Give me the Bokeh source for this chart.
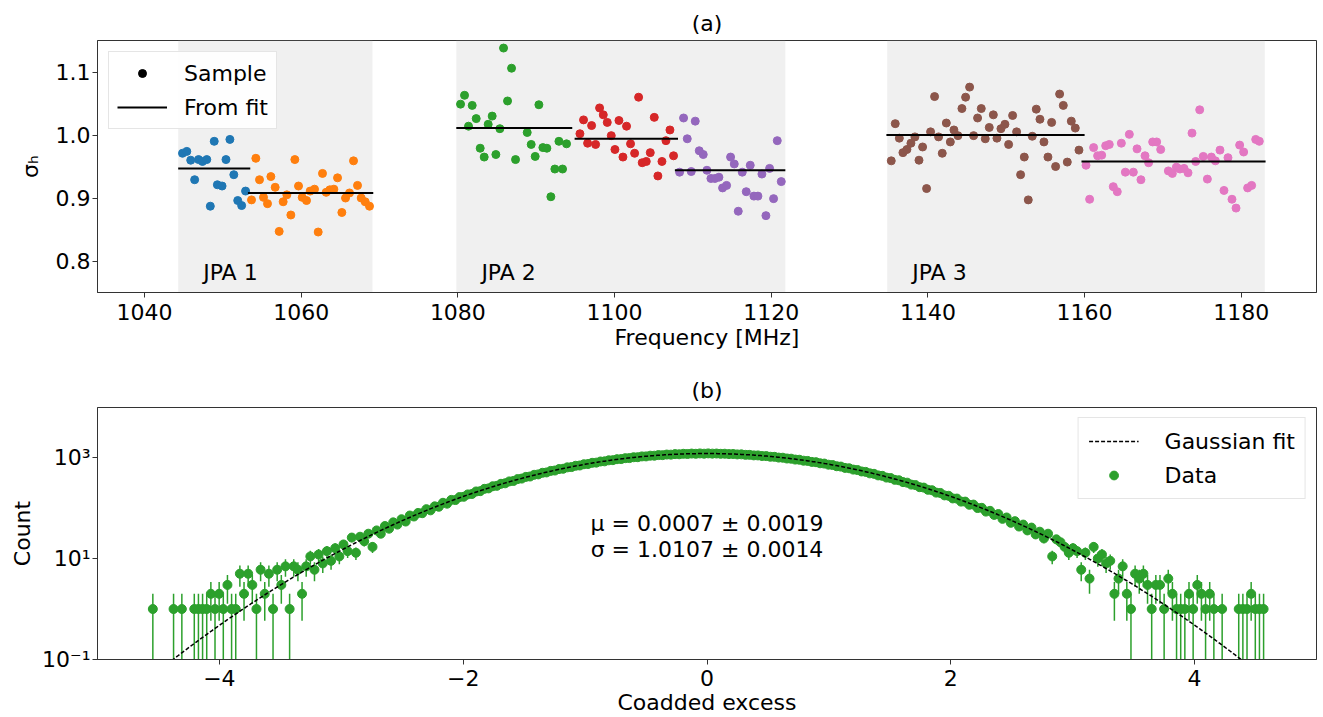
import numpy as np
from bokeh.plotting import figure
from bokeh.layouts import column
from bokeh.models import (BoxAnnotation, Label, Legend, LegendItem, FixedTicker,
                          Range1d, CustomJSTickFormatter)
from bokeh.embed import file_html
from bokeh.resources import INLINE

FONT = "DejaVu Sans"
FS = "22px"
AX = "#333333"

# ---------------- panel (a) data ----------------
jpa_names = ["JPA 1", "JPA 2", "JPA 3"]
jpa_lo = [1044.3, 1079.8, 1134.8]
jpa_hi = [1069.1, 1121.8, 1183.0]

blue_x = [1044.85, 1045.4, 1045.9, 1046.4, 1046.9, 1047.4, 1047.95, 1048.4, 1048.9,
          1049.3, 1049.9, 1050.4, 1050.9, 1051.4, 1051.9, 1052.4, 1052.9]
blue_y = [0.971, 0.974, 0.960, 0.929, 0.961, 0.958, 0.961, 0.887, 0.990,
          0.921, 0.919, 0.961, 0.993, 0.937, 0.896, 0.888, 0.911]

orange_x = [1053.66, 1054.21, 1054.68, 1055.19, 1055.70, 1056.13, 1056.68, 1057.19,
            1057.70, 1058.17, 1058.68, 1059.19, 1059.66, 1060.13, 1060.68, 1061.15,
            1061.70, 1062.17, 1062.72, 1063.19, 1063.66, 1064.17, 1064.64, 1065.19,
            1065.66, 1066.17, 1066.68, 1067.19, 1067.66, 1068.17, 1068.72]
orange_y = [0.897, 0.963, 0.929, 0.901, 0.891, 0.934, 0.917, 0.847, 0.894, 0.905,
            0.873, 0.961, 0.919, 0.901, 0.896, 0.911, 0.914, 0.846, 0.939, 0.909,
            0.913, 0.914, 0.932, 0.877, 0.900, 0.908, 0.959, 0.920, 0.900, 0.894, 0.887]

green_x = [1080.34, 1080.85, 1081.36, 1081.83, 1082.34, 1082.85, 1083.36, 1083.87,
           1084.38, 1084.85, 1085.36, 1085.83, 1086.34, 1086.85, 1087.36, 1088.85,
           1089.36, 1089.87, 1090.34, 1090.85, 1091.36, 1091.87, 1092.38, 1092.90,
           1093.36, 1093.87]
green_y = [1.049, 1.063, 1.014, 1.047, 1.026, 0.979, 0.965, 1.017, 1.030, 0.969,
           1.010, 1.138, 1.054, 1.106, 0.961, 1.004, 0.985, 0.966, 1.048, 0.980,
           0.979, 0.902, 0.946, 0.990, 0.946, 0.986]

red_x = [1095.58, 1096.04, 1096.56, 1097.07, 1097.58, 1098.09, 1098.56, 1099.07,
         1099.58, 1100.05, 1100.56, 1101.07, 1101.53, 1102.04, 1102.56, 1103.07,
         1103.53, 1104.05, 1104.56, 1105.07, 1105.53, 1106.05, 1106.56, 1107.07, 1107.53]
red_y = [1.002, 1.024, 0.987, 1.015, 0.985, 1.043, 1.032, 1.020, 0.999, 0.977,
         1.023, 0.965, 1.014, 0.986, 0.971, 1.060, 0.956, 0.958, 0.972, 1.028,
         0.935, 0.958, 0.991, 1.008, 0.967]

purple_x = [1108.30, 1108.81, 1109.28, 1109.79, 1110.30, 1110.81, 1111.32, 1111.79,
            1112.30, 1112.81, 1113.32, 1113.79, 1114.30, 1114.81, 1115.28, 1115.79,
            1116.30, 1116.81, 1117.32, 1117.79, 1118.30, 1118.81, 1119.32, 1119.79,
            1120.30, 1120.77, 1121.28]
purple_y = [0.941, 1.027, 0.994, 0.942, 1.022, 0.975, 0.969, 0.944, 0.931, 0.931,
            0.933, 0.916, 0.920, 0.965, 0.954, 0.879, 0.941, 0.910, 0.952, 0.903,
            0.903, 0.938, 0.872, 0.947, 0.899, 0.991, 0.926]

brown_x = [1135.32, 1135.83, 1136.35, 1136.81, 1137.32, 1137.83, 1138.34, 1138.86,
           1139.32, 1139.83, 1140.34, 1140.85, 1141.36, 1141.83, 1142.35, 1142.86,
           1143.32, 1143.83, 1144.34, 1144.81, 1145.32, 1145.83, 1146.34, 1146.81,
           1147.32, 1147.83, 1148.35, 1148.81, 1149.32, 1149.83, 1150.30, 1150.81,
           1151.32, 1151.83, 1152.30, 1152.81, 1153.32, 1153.83, 1154.30, 1154.81,
           1155.32, 1155.79, 1156.30, 1156.81, 1157.28, 1157.79, 1158.30, 1158.81, 1159.28]
brown_y = [0.959, 1.018, 0.995, 0.972, 0.977, 0.987, 0.997, 0.960, 0.981, 0.915,
           1.005, 1.061, 0.997, 0.971, 1.019, 0.989, 1.008, 0.999, 1.042, 1.060,
           1.076, 0.999, 1.027, 1.042, 0.994, 1.012, 1.032, 0.995, 1.010, 1.017,
           0.985, 1.031, 1.005, 0.937, 0.965, 0.897, 0.998, 1.041, 1.025, 0.989,
           0.965, 1.020, 0.950, 1.065, 1.047, 0.957, 1.022, 1.011, 0.976]

pink_x = [1160.18, 1160.64, 1161.15, 1161.66, 1162.18, 1162.69, 1163.15, 1163.66,
          1164.17, 1164.69, 1165.20, 1165.71, 1166.22, 1166.69, 1167.19, 1167.71,
          1168.17, 1168.69, 1169.20, 1169.71, 1170.69, 1171.20, 1171.71, 1172.17,
          1172.69, 1173.20, 1173.71, 1174.18, 1174.69, 1175.15, 1175.67, 1176.18,
          1176.69, 1177.28, 1177.79, 1178.30, 1178.81, 1179.33, 1179.79, 1180.30,
          1180.81, 1181.32, 1181.84, 1182.30]
pink_y = [0.952, 0.898, 0.980, 0.967, 0.968, 0.983, 0.985, 0.918, 0.910, 0.987,
          0.941, 1.001, 0.941, 0.978, 0.929, 0.967, 0.956, 0.989, 0.989, 0.977,
          0.943, 0.939, 0.949, 0.946, 0.947, 0.940, 1.003, 0.958, 1.040, 0.966,
          0.930, 0.965, 0.959, 0.976, 0.912, 0.964, 0.898, 0.884, 0.984, 0.973,
          0.916, 0.920, 0.993, 0.990]

fit_x0 = [1044.3, 1053.2, 1079.8, 1094.9, 1107.7, 1134.7, 1159.6]
fit_x1 = [1053.5, 1069.2, 1094.6, 1108.1, 1121.8, 1160.0, 1183.1]
fit_level = [0.947, 0.908, 1.011, 0.994, 0.944, 1.000, 0.958]

# ---------------- panel (b) data ----------------
hist_lo = -4.546      # centre of first bin
bin_width = 0.034
hist_counts = [
    1, 0, 0, 0, 0, 1, 0, 1, 0, 0,
    1, 1, 1, 1, 2, 1, 2, 1, 3, 1,
    1, 5, 2, 5, 3, 1, 6, 2, 5, 1,
    6, 3, 7, 1, 7, 6, 2, 7, 11, 6,
    12, 8, 14, 9, 16, 11, 19, 14, 26, 13,
    27, 22, 31, 17, 36, 31, 44, 39, 52, 47,
    60, 54, 71, 68, 80, 79, 95, 90, 108, 106,
    127, 122, 145, 144, 165, 167, 186, 190, 213, 216,
    240, 245, 270, 275, 302, 309, 337, 344, 374, 383,
    414, 421, 455, 464, 499, 507, 544, 553, 591, 600,
    639, 648, 687, 696, 737, 745, 786, 793, 835, 841,
    882, 888, 928, 933, 972, 976, 1014, 1016, 1053, 1054,
    1088, 1087, 1119, 1116, 1146, 1141, 1169, 1162, 1186, 1177,
    1199, 1187, 1206, 1192, 1208,
    1195, 1201, 1186, 1190, 1171, 1176, 1154, 1157, 1131, 1130,
    1104, 1102, 1072, 1069, 1037, 1032, 998, 992, 957, 949,
    912, 904, 866, 857, 819, 809, 770, 760, 722, 711,
    673, 662, 624, 613, 577, 566, 530, 520, 486, 476,
    443, 434, 401, 393, 362, 355, 326, 318, 291, 285,
    259, 254, 230, 225, 202, 199, 178, 175, 155, 154,
    134, 134, 116, 117, 100, 101, 85, 88, 73, 76,
    61, 65, 51, 55, 43, 47, 36, 41, 30, 34,
    25, 31, 11, 24, 21, 17, 13, 16, 14, 6,
    13, 4, 17, 10, 12, 8, 9, 2, 4, 7,
    2, 1, 5, 4, 5, 3, 1, 3, 3, 1,
    4, 2, 1, 1, 1, 2, 1, 3, 2, 1,
    2, 1, 0, 1, 0, 0, 0, 1, 1, 1,
    2, 1, 1, 1,
]
fit_amp = 1200.0
fit_mu = 0.0007
fit_sigma = 1.0107
mu_text = "μ = 0.0007 ± 0.0019"
sigma_text = "σ = 1.0107 ± 0.0014"

top_xticks = [1040, 1060, 1080, 1100, 1120, 1140, 1160, 1180]
top_yticks = [0.8, 0.9, 1.0, 1.1]
bot_xticks = [-4, -2, 0, 2, 4]
bot_yticks = [0.1, 10, 1000]

C_BLUE, C_ORANGE, C_GREEN, C_RED = "#1f77b4", "#ff7f0e", "#2ca02c", "#d62728"
C_PURPLE, C_BROWN, C_PINK = "#9467bd", "#8c564b", "#e377c2"


def style(p):
    p.grid.visible = False
    p.outline_line_color = AX
    p.outline_line_width = 1
    p.title.align = "center"
    p.title.text_font = FONT
    p.title.text_font_size = FS
    p.title.text_font_style = "normal"
    p.title.text_color = "black"
    for ax in p.axis:
        ax.axis_line_color = AX
        ax.major_tick_line_color = AX
        ax.minor_tick_line_color = None
        ax.major_tick_out = 5
        ax.major_tick_in = 0
        ax.major_label_standoff = 2
        ax.major_label_text_font = FONT
        ax.major_label_text_font_size = FS
        ax.major_label_text_color = "black"
        ax.axis_label_text_font = FONT
        ax.axis_label_text_font_size = FS
        ax.axis_label_text_font_style = "normal"
        ax.axis_label_text_color = "black"
        ax.axis_label_standoff = 0


# ---------------- panel (a) ----------------
p1 = figure(frame_width=1219, frame_height=252,
            x_range=Range1d(1034.0, 1189.6), y_range=Range1d(0.75, 1.15),
            output_backend="svg", toolbar_location=None,
            min_border_left=97, min_border_right=7, min_border_top=40, min_border_bottom=68,
            title="(a)", x_axis_label="Frequency [MHz]", y_axis_label="σₕ")
style(p1)
p1.yaxis.axis_label_standoff = 10
p1.xaxis.major_label_standoff = 6
p1.xaxis.axis_label_standoff = 2
p1.xaxis.ticker = FixedTicker(ticks=top_xticks, minor_ticks=[])
p1.yaxis.ticker = FixedTicker(ticks=top_yticks, minor_ticks=[])
p1.yaxis.major_label_overrides = {0.8: "0.8", 0.9: "0.9", 1.0: "1.0", 1.1: "1.1"}

for lo, hi, name in zip(jpa_lo, jpa_hi, jpa_names):
    p1.add_layout(BoxAnnotation(left=lo, right=hi, fill_color="#d3d3d3", fill_alpha=0.35,
                                line_color=None, level="underlay"))
    p1.add_layout(Label(x=lo + 3.2, y=0.781, text=name, text_font=FONT, text_font_size=FS,
                        text_baseline="alphabetic", text_color="black"))

for gx, gy, col in [(blue_x, blue_y, C_BLUE), (orange_x, orange_y, C_ORANGE),
                    (green_x, green_y, C_GREEN), (red_x, red_y, C_RED),
                    (purple_x, purple_y, C_PURPLE), (brown_x, brown_y, C_BROWN),
                    (pink_x, pink_y, C_PINK)]:
    p1.scatter(gx, gy, size=8, color=col)

p1.segment(x0=fit_x0, y0=fit_level, x1=fit_x1, y1=fit_level, line_color="black", line_width=2)

# legend-only renderers (no visible data)
nan1 = np.array([np.nan])
r_sample = p1.scatter(x=nan1, y=nan1, size=8, color="black")
r_fitline = p1.line(x=nan1, y=nan1, line_color="black", line_width=2)
leg1 = Legend(items=[LegendItem(label="Sample", renderers=[r_sample]),
                     LegendItem(label="From fit", renderers=[r_fitline])],
              location="top_left", margin=11, padding=8, spacing=8,
              glyph_width=50, glyph_height=20, label_height=26, label_standoff=17,
              label_text_font=FONT, label_text_font_size=FS, label_text_color="black",
              border_line_color="#cccccc", background_fill_alpha=0.9)
p1.add_layout(leg1)

# ---------------- panel (b) ----------------
p2 = figure(frame_width=1219, frame_height=252, y_axis_type="log",
            x_range=Range1d(-5, 5), y_range=Range1d(0.1, 9800),
            output_backend="svg", toolbar_location=None,
            min_border_left=97, min_border_right=7, min_border_top=47, min_border_bottom=58,
            title="(b)", x_axis_label="Coadded excess", y_axis_label="Count")
style(p2)
p2.yaxis.axis_label_standoff = 4
p2.xaxis.major_label_standoff = 5
p2.xaxis.axis_label_standoff = 1
p2.xaxis.ticker = FixedTicker(ticks=bot_xticks, minor_ticks=[])
p2.xaxis.major_label_overrides = {-4: "\u22124", -2: "\u22122", 0: "0", 2: "2", 4: "4"}
p2.yaxis.ticker = FixedTicker(ticks=bot_yticks, minor_ticks=[])
p2.yaxis.formatter = CustomJSTickFormatter(code="""
const e = Math.round(Math.log10(tick));
const sup = {"-": "\u207b", "0": "\u2070", "1": "\u00b9", "2": "\u00b2", "3": "\u00b3",
             "4": "\u2074", "5": "\u2075", "6": "\u2076", "7": "\u2077", "8": "\u2078", "9": "\u2079"};
return "10" + String(e).split("").map(c => sup[c]).join("");
""")

counts = np.array(hist_counts, dtype=float)
centers = hist_lo + bin_width * np.arange(len(counts))
m = counts > 0
cx, cy = centers[m], counts[m]
err = np.sqrt(cy)
p2.segment(x0=cx, y0=np.maximum(cy - err, 1e-3), x1=cx, y1=cy + err,
           line_color=C_GREEN, line_width=1.5)
r_data = p2.scatter(cx, cy, size=9, color=C_GREEN)

xf = np.linspace(-5, 5, 1001)
yf = fit_amp * np.exp(-(xf - fit_mu) ** 2 / (2 * fit_sigma ** 2))
r_fit = p2.line(xf, yf, line_color="black", line_width=1.5, line_dash="4 2")

p2.add_layout(Label(x=0, y=49, text=mu_text, text_font=FONT, text_font_size=FS,
                    text_align="center", text_baseline="middle", text_color="black"))
p2.add_layout(Label(x=0, y=15.1, text=sigma_text, text_font=FONT, text_font_size=FS,
                    text_align="center", text_baseline="middle", text_color="black"))

leg2 = Legend(items=[LegendItem(label="Gaussian fit", renderers=[r_fit]),
                     LegendItem(label="Data", renderers=[r_data])],
              location="top_right", margin=10, padding=10, spacing=8,
              glyph_width=50, glyph_height=22, label_height=26, label_standoff=26,
              label_text_font=FONT, label_text_font_size=FS, label_text_color="black",
              border_line_color="#cccccc", background_fill_alpha=0.9)
p2.add_layout(leg2)

layout = column(p1, p2)
open("out.html", "w").write(file_html(layout, INLINE))
